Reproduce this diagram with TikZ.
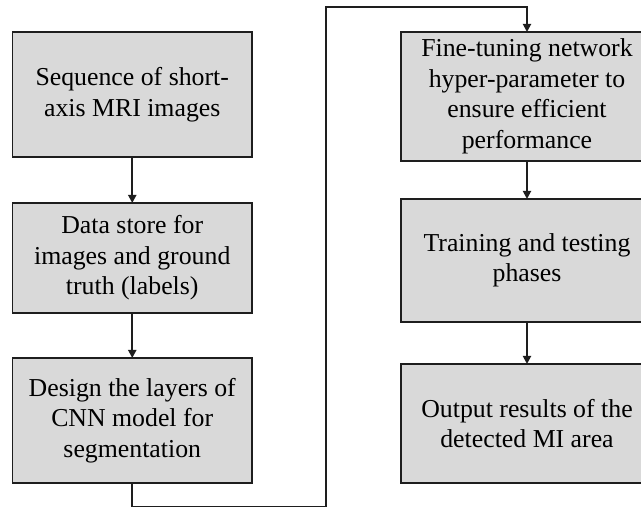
\documentclass[tikz,border=0pt]{standalone}
\usepackage{fontspec}
\setmainfont{Liberation Serif}
\usetikzlibrary{arrows.meta}
\definecolor{boxfill}{HTML}{D9D9D9}
\definecolor{edge}{HTML}{1E1E1E}
\begin{document}
\begin{tikzpicture}[x=1pt,y=-1pt,
  stepbox/.style={draw=edge, fill=boxfill, line width=1.8pt, inner sep=0pt, outer sep=0pt,
    align=center, font=\fontsize{25.8}{30.5}\selectfont, text=black},
  conn/.style={draw=edge, line width=1.8pt, -{Triangle[length=8pt,width=8pt]}}]
\useasboundingbox (0,0) rectangle (641,508);
\clip (0,0) rectangle (641,508);
\fill[white] (0,0) rectangle (641,508);
\node[stepbox, minimum width=239.5pt, minimum height=125pt] (b1) at (132.25,94.5) {Sequence of short-\\axis MRI images};
\node[stepbox, minimum width=239.5pt, minimum height=110pt] (b2) at (132.25,258) {Data store for\\images and ground\\truth (labels)};
\node[stepbox, minimum width=239.5pt, minimum height=125pt] (b3) at (132.25,420.5) {Design the layers of\\CNN model for\\segmentation};
\node[stepbox, minimum width=252pt, minimum height=129pt] (b4) at (527,96.5) {Fine-tuning network\\hyper-parameter to\\ensure efficient\\performance};
\node[stepbox, minimum width=252pt, minimum height=123pt] (b5) at (527,260.5) {Training and testing\\phases};
\node[stepbox, minimum width=252pt, minimum height=119pt] (b6) at (527,423.5) {Output results of the\\detected MI area};
\coordinate (c1) at (132.25,506.5);
\coordinate (c2) at (326,506.5);
\coordinate (c3) at (326,7);
\coordinate (c4) at (527,7);
\draw[conn] (b1) -- (b2);
\draw[conn] (b2) -- (b3);
\draw[conn] (b3.south) -- (c1) -- (c2) -- (c3) -- (c4) -- (b4.north);
\draw[conn] (b4) -- (b5);
\draw[conn] (b5) -- (b6);
\end{tikzpicture}
\end{document}
